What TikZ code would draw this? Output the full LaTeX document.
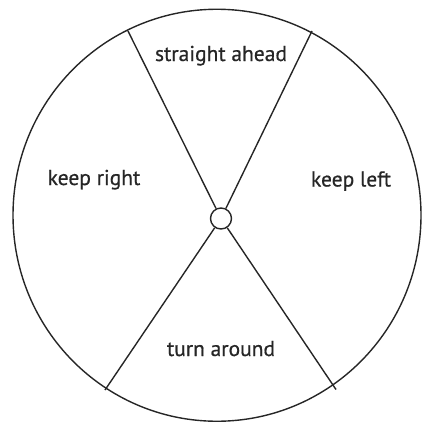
\documentclass[tikz,border=0pt]{standalone}
\usepackage{fontspec}
\setmainfont{PT Sans}[FakeBold=0.6]
\begin{document}
\begin{tikzpicture}[x=1pt,y=-1pt,
  ln/.style={line width=1.4pt, black!85},
  lbl/.style={font=\fontsize{21.5}{24}\selectfont, text=black!85, anchor=base, inner sep=0pt}]
\useasboundingbox (0,0) rectangle (423,423);
\draw[ln] (217,215.25) ellipse [x radius=204, y radius=206];
\node[ln, draw, circle, minimum size=21pt, inner sep=0pt, fill=white] (hub) at (221,218.5) {};
\coordinate (tl) at (128,31);
\coordinate (tr) at (312,31);
\coordinate (bl) at (105,390);
\coordinate (br) at (336,389.5);
\draw[ln] (hub) -- (tl);
\draw[ln] (hub) -- (tr);
\draw[ln] (hub) -- (bl);
\draw[ln] (hub) -- (br);
\node[lbl] (sa) at (221,61) {straight ahead};
\node[lbl] (kr) at (94,185) {keep right};
\node[lbl] (kl) at (351,186.5) {keep left};
\node[lbl] (ta) at (221,356) {turn around};
\end{tikzpicture}
\end{document}
